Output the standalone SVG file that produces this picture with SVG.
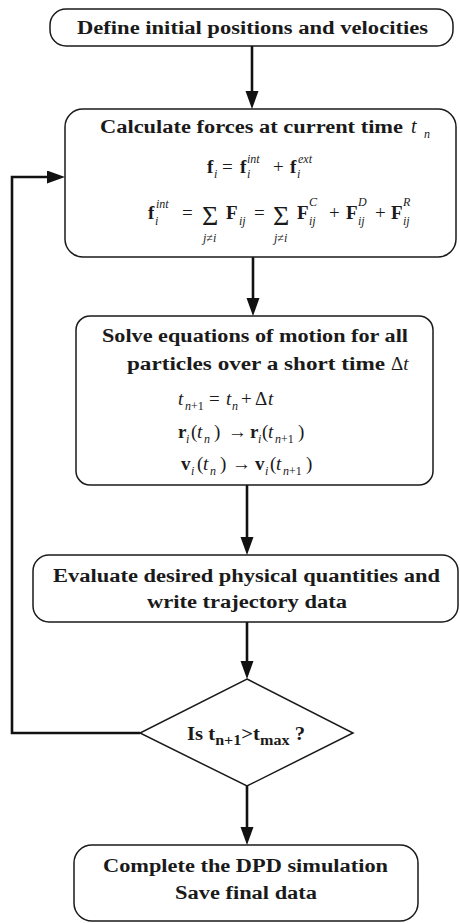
<svg xmlns="http://www.w3.org/2000/svg" width="460" height="923" viewBox="0 0 460 923">
<style>
.box{fill:#fff;stroke:#1a1a1a;stroke-width:1.5}
.t{font-family:"Liberation Serif","Times New Roman",serif;font-weight:bold;font-size:18px;fill:#1a1a1a}
.m{font-family:"Liberation Serif","Times New Roman",serif;font-size:19px;fill:#1a1a1a}
.b{font-weight:bold}
.i{font-style:italic}
.s{font-size:12px}
.xs{font-size:12px}
.sg{font-size:28px}
.c{stroke:#111;stroke-width:2.6;fill:none}
</style>
<defs>
<marker id="ah" markerUnits="userSpaceOnUse" markerWidth="18" markerHeight="14" refX="2" refY="6.5" orient="auto">
<path d="M0,0 L18,6.5 L0,13 z" fill="#111"/>
</marker>
</defs>
<rect width="460" height="923" fill="#fff"/>
<g id="connectors">
<line class="c" x1="252" y1="46" x2="252" y2="93" marker-end="url(#ah)"/>
<line class="c" x1="253" y1="257" x2="253" y2="300" marker-end="url(#ah)"/>
<line class="c" x1="247" y1="485" x2="247" y2="539" marker-end="url(#ah)"/>
<line class="c" x1="247" y1="622" x2="247" y2="663" marker-end="url(#ah)"/>
<line class="c" x1="247" y1="786" x2="247" y2="829" marker-end="url(#ah)"/>
<polyline class="c" points="140,733 12,733 12,177 49,177" marker-end="url(#ah)"/>
</g>
<g id="n1">
<rect class="box" x="50" y="9" width="403" height="37" rx="16"/>
<text class="t" x="77" y="34" textLength="351" lengthAdjust="spacingAndGlyphs">Define initial positions and velocities</text>
</g>
<g id="n2">
<rect class="box" x="65" y="109" width="391" height="148" rx="18"/>
<text class="t" x="100" y="133" textLength="303" lengthAdjust="spacingAndGlyphs">Calculate forces at current time</text>
<text class="m" x="411" y="133"><tspan class="i" font-size="20">t</tspan><tspan class="i s" x="424" y="138">n</tspan></text>
<text class="m">
<tspan class="b" x="207" y="173">f</tspan><tspan class="i s" x="214" y="178">i</tspan>
<tspan x="222" y="173">=</tspan>
<tspan class="b" x="240" y="173">f</tspan><tspan class="i s" x="247" y="163">int</tspan><tspan class="i s" x="247" y="178">i</tspan>
<tspan x="273" y="173">+</tspan>
<tspan class="b" x="290" y="173">f</tspan><tspan class="i s" x="298" y="163">ext</tspan><tspan class="i s" x="297" y="178">i</tspan>
</text>
<text class="m">
<tspan class="b" x="148" y="219">f</tspan><tspan class="i s" x="156" y="208">int</tspan><tspan class="i s" x="155" y="225">i</tspan>
<tspan x="182" y="219">=</tspan>
<tspan class="sg" x="202" y="225">Σ</tspan><tspan class="i xs" x="203" y="242">j≠i</tspan>
<tspan class="b" x="226" y="219">F</tspan><tspan class="i s" x="239" y="225">ij</tspan>
<tspan x="254" y="219">=</tspan>
<tspan class="sg" x="273" y="225">Σ</tspan><tspan class="i xs" x="274" y="242">j≠i</tspan>
<tspan class="b" x="297" y="219">F</tspan><tspan class="i s" x="309" y="206">C</tspan><tspan class="i s" x="309" y="225">ij</tspan>
<tspan x="329" y="219">+</tspan>
<tspan class="b" x="346" y="219">F</tspan><tspan class="i s" x="358" y="206">D</tspan><tspan class="i s" x="358" y="225">ij</tspan>
<tspan x="375" y="219">+</tspan>
<tspan class="b" x="391" y="219">F</tspan><tspan class="i s" x="403" y="206">R</tspan><tspan class="i s" x="403" y="225">ij</tspan>
</text>
</g>
<g id="n3">
<rect class="box" x="76" y="316" width="357" height="169" rx="14"/>
<text class="t" x="102" y="342" textLength="306" lengthAdjust="spacingAndGlyphs">Solve equations of motion for all</text>
<text class="t" x="127" y="370" textLength="258" lengthAdjust="spacingAndGlyphs">particles over a short time</text>
<text class="m" x="391" y="370">Δ<tspan class="i">t</tspan></text>
<text class="m">
<tspan class="i" x="178" y="405">t</tspan><tspan class="i s" x="185" y="410">n</tspan><tspan class="s" y="410">+1</tspan>
<tspan x="209" y="405">=</tspan>
<tspan class="i" x="226" y="405">t</tspan><tspan class="i s" x="232" y="410">n</tspan>
<tspan x="241" y="405">+</tspan>
<tspan x="255" y="405">Δ</tspan><tspan class="i" x="268" y="405">t</tspan>
</text>
<text class="m">
<tspan class="b" x="178" y="438">r</tspan><tspan class="i s" x="186" y="443">i</tspan>
<tspan x="191" y="438">(</tspan><tspan class="i" x="197" y="438">t</tspan><tspan class="i s" x="204" y="443">n</tspan><tspan x="214" y="438">)</tspan>
<tspan x="228" y="438">→</tspan>
<tspan class="b" x="250" y="438">r</tspan><tspan class="i s" x="258" y="443">i</tspan>
<tspan x="262" y="438">(</tspan><tspan class="i" x="268" y="438">t</tspan><tspan class="i s" x="275" y="443">n</tspan><tspan class="s" y="443">+1</tspan><tspan x="298" y="438">)</tspan>
</text>
<text class="m">
<tspan class="b" x="181" y="470">v</tspan><tspan class="i s" x="191" y="475">i</tspan>
<tspan x="197" y="470">(</tspan><tspan class="i" x="203" y="470">t</tspan><tspan class="i s" x="210" y="475">n</tspan><tspan x="220" y="470">)</tspan>
<tspan x="232" y="470">→</tspan>
<tspan class="b" x="255" y="470">v</tspan><tspan class="i s" x="265" y="475">i</tspan>
<tspan x="270" y="470">(</tspan><tspan class="i" x="276" y="470">t</tspan><tspan class="i s" x="283" y="475">n</tspan><tspan class="s" y="475">+1</tspan><tspan x="306" y="470">)</tspan>
</text>
</g>
<g id="n4">
<rect class="box" x="33" y="555" width="425" height="67" rx="16"/>
<text class="t" x="53" y="582" textLength="387" lengthAdjust="spacingAndGlyphs">Evaluate desired physical quantities and</text>
<text class="t" x="147" y="608" textLength="200" lengthAdjust="spacingAndGlyphs">write trajectory data</text>
</g>
<g id="n5">
<polygon class="box" points="247,679 353,733 247,786 140,733"/>
<text class="t" x="187" y="740" font-size="20" textLength="118" lengthAdjust="spacingAndGlyphs">Is t<tspan font-size="14" y="745">n+1</tspan><tspan y="740">&gt;t</tspan><tspan font-size="14" y="745">max</tspan><tspan y="740"> ?</tspan></text>
</g>
<g id="n6">
<rect class="box" x="74" y="845" width="344" height="76" rx="18"/>
<text class="t" x="103" y="872" textLength="285" lengthAdjust="spacingAndGlyphs">Complete the DPD simulation</text>
<text class="t" x="175" y="899" textLength="142" lengthAdjust="spacingAndGlyphs">Save final data</text>
</g>
</svg>
